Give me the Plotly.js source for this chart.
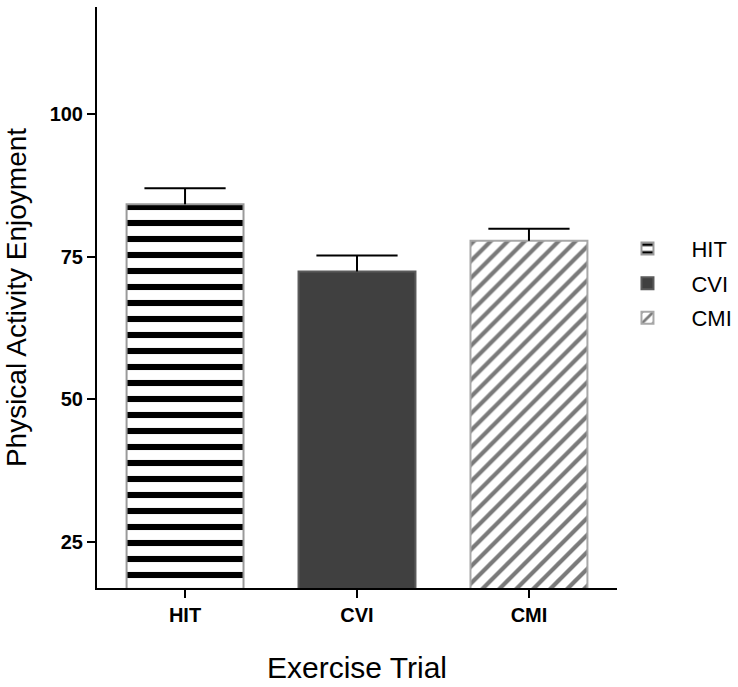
<!DOCTYPE html>
<html>
<head>
<meta charset="utf-8">
<script src="https://cdn.plot.ly/plotly-3.0.1.min.js"></script>
<style>html,body{margin:0;padding:0;background:#fff;}#chart{width:738px;height:687px;}</style>
</head>
<body>
<div id="chart"></div>
<script>
const categories = ["HIT", "CVI", "CMI"];
const means = [84.2, 72.4, 77.8];
const sem = [2.8, 2.8, 2.1];
const yTicks = [25, 50, 75, 100];

const styles = [
  {fg: "#000000", bg: "#ffffff", shape: "-", size: 16, solidity: 0.38, line: "#9a9a9a", fill: "#ffffff"},
  {fg: null, bg: null, shape: "", size: 8, solidity: 0.3, line: "#5a5a5a", fill: "#404040"},
  {fg: "#7a7a7a", bg: "#ffffff", shape: "/", size: 12, solidity: 0.35, line: "#a8a8a8", fill: "#ffffff"}
];

const traces = categories.map((c, i) => {
  const s = styles[i];
  const marker = {color: s.fill, line: {color: s.line, width: 2}};
  if (s.shape) marker.pattern = {shape: s.shape, fgcolor: s.fg, bgcolor: s.bg, size: s.size, solidity: s.solidity, fillmode: "replace"};
  return {
    type: "bar", x: [c], y: [means[i]], name: c, width: 0.68,
    marker: marker,
    error_y: {type: "data", array: [sem[i]], arrayminus: [0], symmetric: false, color: "#000", thickness: 2, width: 0},
    legendgroup: c, showlegend: true, hoverinfo: "skip"
  };
});

traces.push({
  type: "scatter", mode: "markers", x: categories,
  y: means.map((m, i) => m + sem[i]),
  marker: {symbol: "line-ew", size: 58, line: {color: "#000", width: 2}},
  showlegend: false, hoverinfo: "skip", cliponaxis: false
});

const tickFont = {size: 20, family: "Liberation Sans, Arial, sans-serif", weight: "bold", color: "#000"};

const layout = {
  width: 738, height: 687,
  margin: {l: 97, r: 121, t: 7, b: 99, autoexpand: false},
  paper_bgcolor: "#fff", plot_bgcolor: "#fff",
  font: {family: "Liberation Sans, Arial, sans-serif", color: "#000"},
  xaxis: {
    range: [-0.512, 2.512], showline: true, linecolor: "#000", linewidth: 2,
    ticks: "outside", ticklen: 8, tickwidth: 2, tickcolor: "#000",
    tickfont: tickFont,
    showgrid: false, zeroline: false,
    title: {text: "Exercise Trial", font: {size: 30}, standoff: 32}
  },
  yaxis: {
    range: [16.9, 118.8], showline: true, linecolor: "#000", linewidth: 2,
    tickvals: yTicks, ticktext: yTicks.map(String),
    ticks: "outside", ticklen: 8, tickwidth: 2, tickcolor: "#000",
    tickfont: tickFont,
    showgrid: false, zeroline: false,
    title: {text: "Physical Activity Enjoyment", font: {size: 28}, standoff: 15}
  },
  legend: {
    x: 0.974, y: 0.62, xanchor: "left", yanchor: "top",
    font: {size: 22}, traceorder: "grouped", tracegroupgap: 3,
    itemwidth: 78,
    bgcolor: "rgba(0,0,0,0)"
  },
  showlegend: true
};

Plotly.newPlot("chart", traces, layout, {displayModeBar: false, staticPlot: true});
</script>
</body>
</html>
